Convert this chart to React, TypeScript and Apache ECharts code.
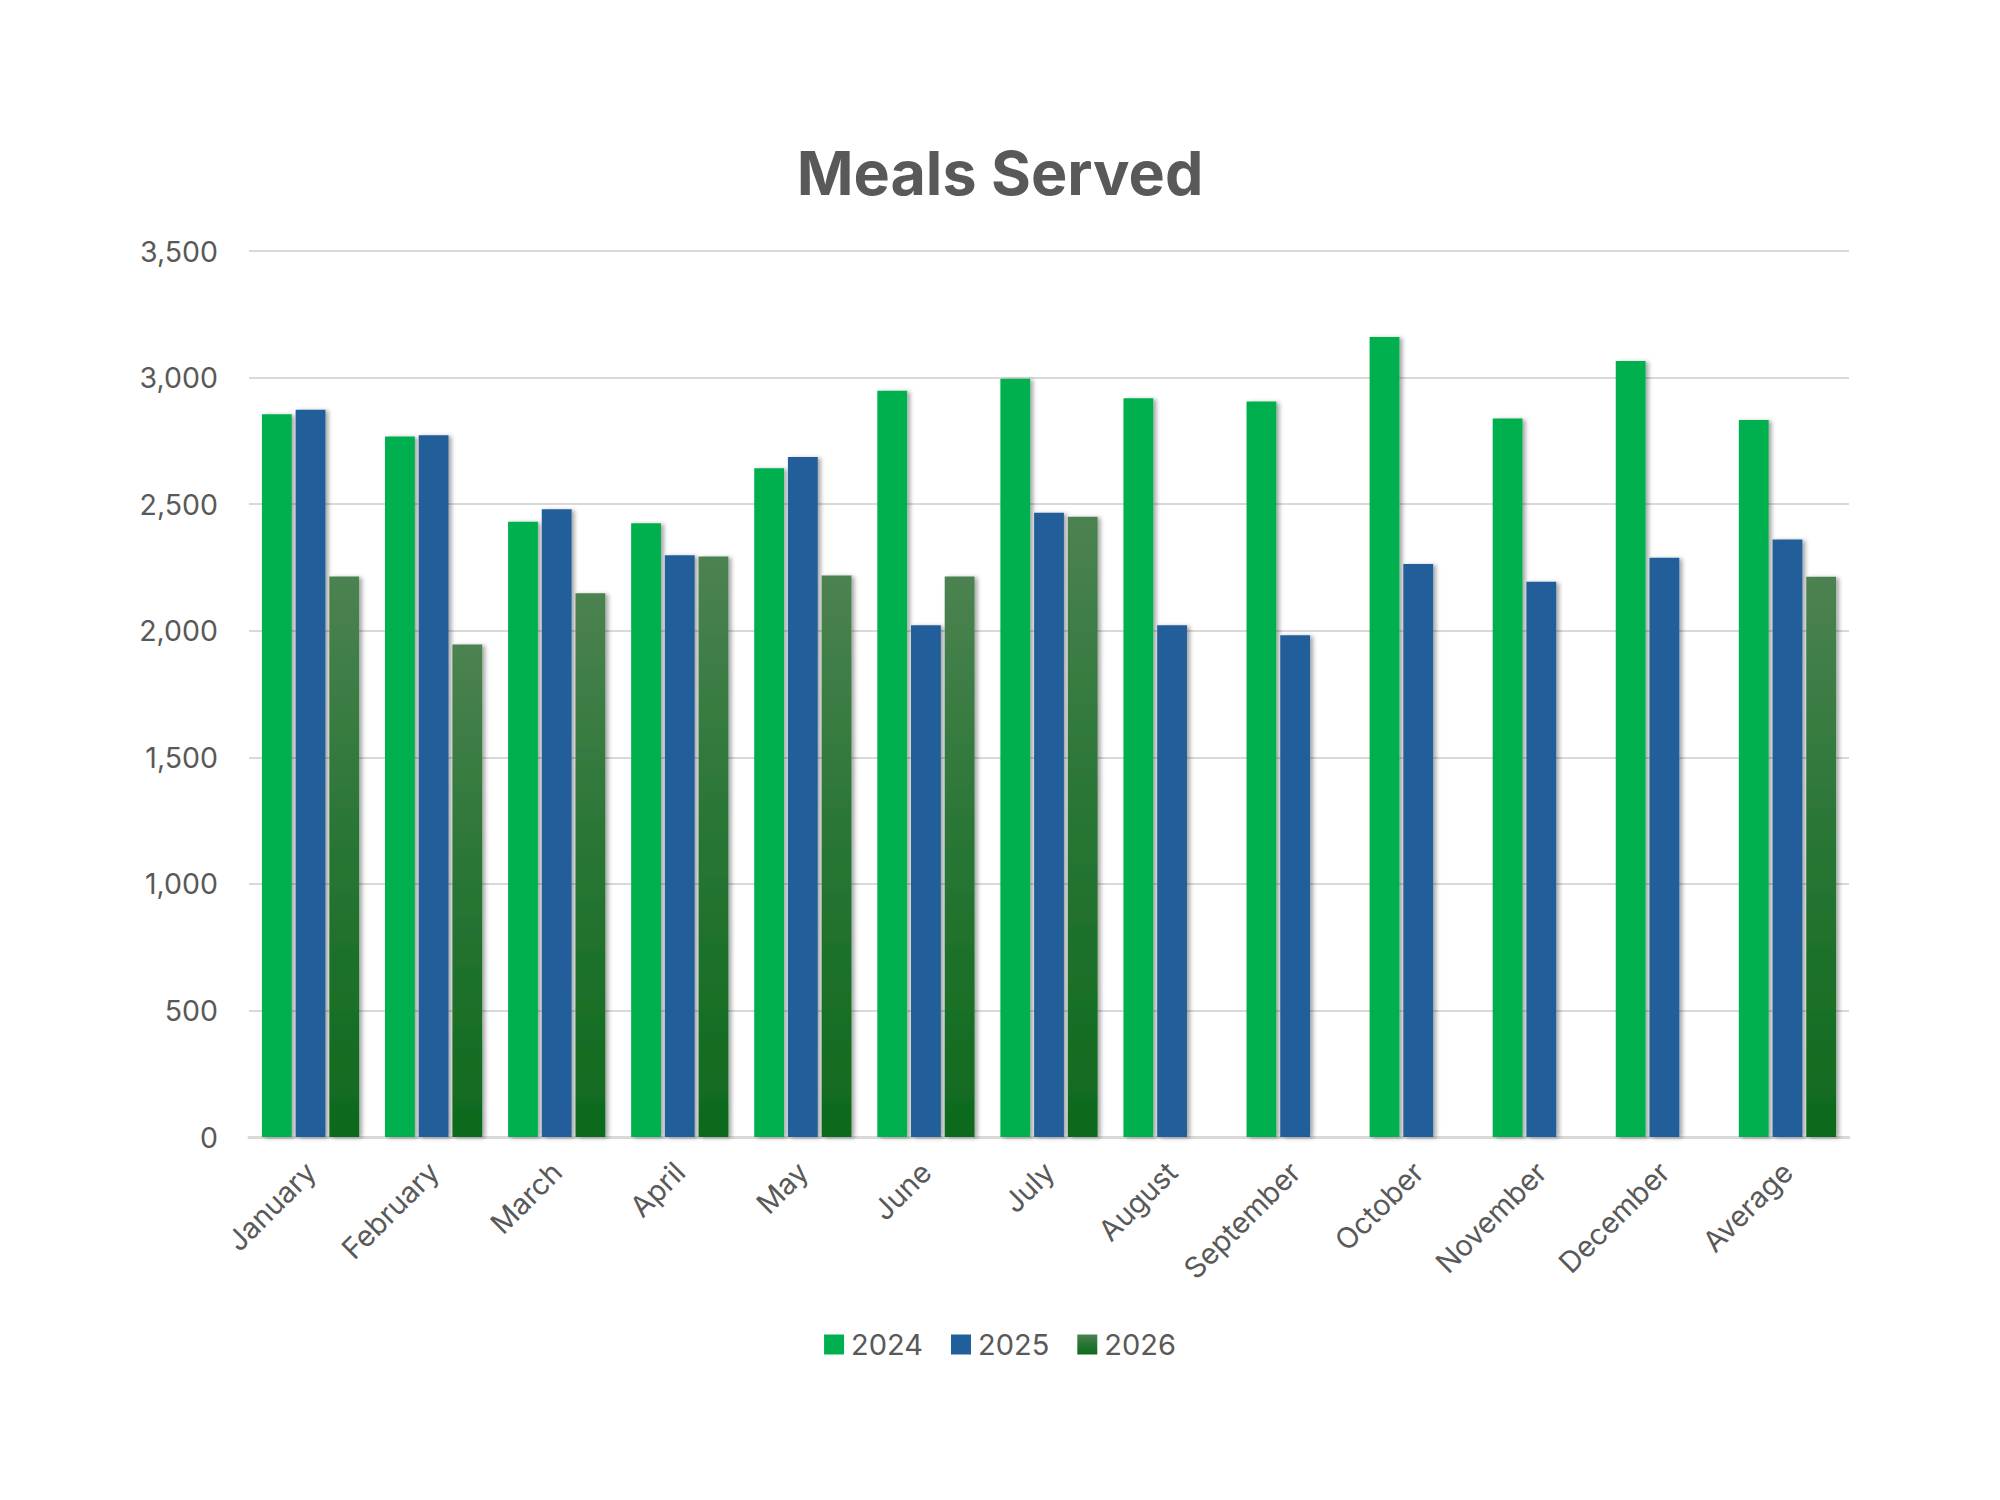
import React, { useEffect, useRef } from "react";
import * as echarts from "echarts";

const categories = [
  "January", "February", "March", "April", "May", "June", "July",
  "August", "September", "October", "November", "December", "Average",
];
const series2024 = [2855, 2767, 2430, 2425, 2642, 2948, 2995, 2918, 2905, 3160, 2838, 3065, 2832];
const series2025 = [2873, 2772, 2480, 2298, 2686, 2022, 2466, 2022, 1982, 2264, 2193, 2288, 2360];
const series2026 = [2214, 1946, 2148, 2293, 2218, 2214, 2450, null, null, null, null, null, 2213];
const yTicks = { min: 0, max: 3500, interval: 500 };

const TEXT = "#595959";
const FONT = "Inter, 'Open Sans', 'Noto Sans', sans-serif";

export default function App() {
  const ref = useRef<HTMLDivElement>(null);
  useEffect(() => {
    if (!ref.current) return;
    const chart = echarts.init(ref.current, null, { renderer: "svg" });
    const shadow = {
      shadowColor: "rgba(0,0,0,0.35)",
      shadowBlur: 4,
      shadowOffsetX: 3,
      shadowOffsetY: 1,
    };
    const grad2026 = new echarts.graphic.LinearGradient(0, 0, 0, 1, [
      { offset: 0, color: "#4C8251" },
      { offset: 0.45, color: "#2A7636" },
      { offset: 1, color: "#0E6A1D" },
    ]);
    chart.setOption({
      animation: false,
      backgroundColor: "#ffffff",
      textStyle: { fontFamily: FONT },
      title: {
        text: "Meals Served",
        left: "center",
        top: 137,
        textStyle: { fontFamily: FONT, fontSize: 61, fontWeight: 700, color: TEXT },
      },
      legend: {
        bottom: 136,
        left: "center",
        itemWidth: 20,
        itemHeight: 20,
        itemGap: 28,
        icon: "rect",
        textStyle: { fontFamily: FONT, fontSize: 29, color: TEXT, padding: [0, 0, 0, 2] },
        data: ["2024", "2025", "2026"],
      },
      grid: { left: 249, right: 151, top: 251, bottom: 363, containLabel: false },
      xAxis: {
        type: "category",
        data: categories,
        axisLine: { lineStyle: { color: "#d9d9d9", width: 3 } },
        axisTick: { show: false },
        axisLabel: {
          rotate: 45,
          fontFamily: FONT,
          fontSize: 29,
          color: TEXT,
          margin: 30,
          interval: 0,
        },
      },
      yAxis: {
        type: "value",
        min: yTicks.min,
        max: yTicks.max,
        interval: yTicks.interval,
        axisLine: { show: false },
        axisTick: { show: false },
        splitLine: { lineStyle: { color: "#d9d9d9", width: 2 } },
        axisLabel: {
          fontFamily: FONT,
          fontSize: 28.5,
          color: TEXT,
          margin: 31,
          formatter: (v: number) => v.toLocaleString("en-US"),
        },
      },
      series: [
        {
          name: "2024",
          type: "bar",
          data: series2024,
          barGap: "13%",
          barCategoryGap: "21%",
          itemStyle: { color: "#00B050", ...shadow },
        },
        {
          name: "2025",
          type: "bar",
          data: series2025,
          barGap: "13%",
          barCategoryGap: "21%",
          itemStyle: { color: "#215F9A", ...shadow },
        },
        {
          name: "2026",
          type: "bar",
          data: series2026,
          barGap: "13%",
          barCategoryGap: "21%",
          itemStyle: { color: grad2026, ...shadow },
        },
      ],
    });
    return () => chart.dispose();
  }, []);
  return (
    <div
      ref={ref}
      style={{ position: "fixed", left: 0, top: 0, width: 2000, height: 1500, background: "#fff" }}
    />
  );
}
